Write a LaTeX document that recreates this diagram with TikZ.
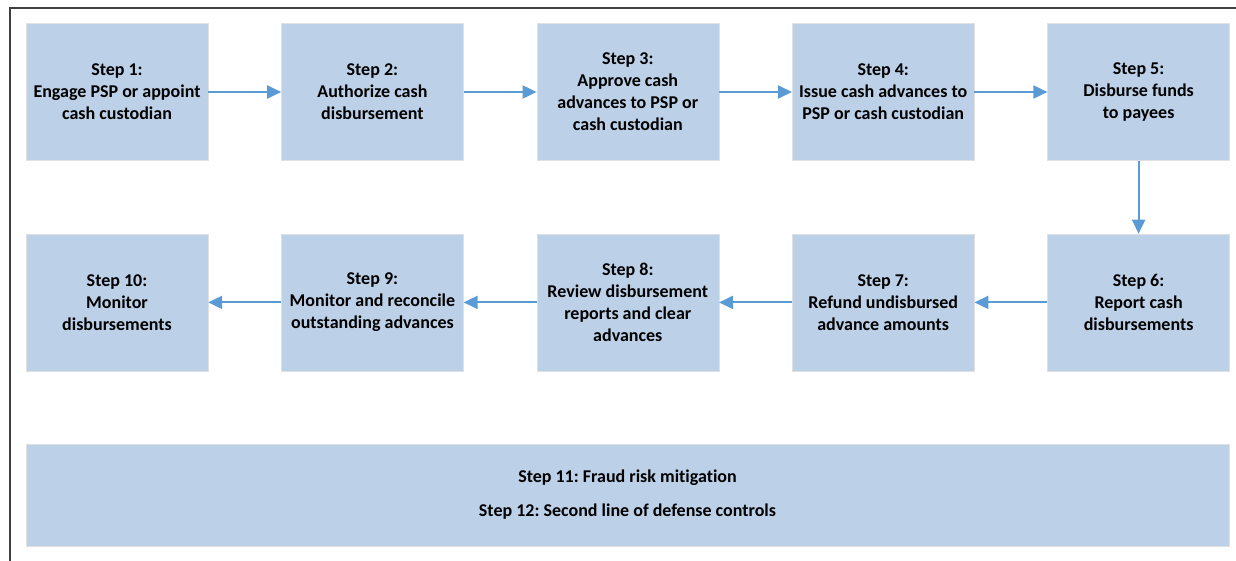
\documentclass[tikz,border=0pt]{standalone}
\usepackage{fontspec}
\setmainfont{Carlito}[Ligatures=NoCommon]
\usetikzlibrary{positioning,arrows.meta}

\begin{document}
\frenchspacing
\begin{tikzpicture}
[
    x=1pt, y=-1pt,
    stepbox/.style={draw=black!12, fill=boxblue, minimum width=182pt, minimum height=137pt,
        align=center, font=\fontsize{18}{22}\selectfont\bfseries, inner sep=2pt},
    flow/.style={draw=arrowblue, line width=2pt, -{Triangle[length=14pt, width=13pt]}},
]
\definecolor{boxblue}{HTML}{BCD0E8}
\definecolor{arrowblue}{HTML}{5B9BD5}
\useasboundingbox (0,0) rectangle (1236,560);
\draw [black!75, line width=1.3pt] (10,562) -- (10,8) -- (1238,8);

% top row
\node [stepbox] (step1) at (117,92) {Step 1:\\Engage PSP or appoint\\cash custodian};
\node [stepbox, right=73pt of step1] (step2) {Step 2:\\Authorize cash\\disbursement};
\node [stepbox, right=73pt of step2] (step3) {Step 3:\\Approve cash\\advances to PSP or\\cash custodian};
\node [stepbox, right=73pt of step3] (step4) {Step 4:\\Issue cash advances to\\PSP or cash custodian};
\node [stepbox, right=73pt of step4] (step5) {Step 5:\\Disburse funds\\to payees};

% second row
\node [stepbox, below=73pt of step5] (step6) {Step 6:\\Report cash\\disbursements};
\node [stepbox, left=73pt of step6] (step7) {Step 7:\\Refund undisbursed\\advance amounts};
\node [stepbox, left=73pt of step7] (step8) {Step 8:\\Review disbursement\\reports and clear\\advances};
\node [stepbox, left=73pt of step8] (step9) {Step 9:\\Monitor and reconcile\\outstanding advances};
\node [stepbox, left=73pt of step9] (step10) {Step 10:\\Monitor\\disbursements};

% bottom
\node [stepbox, minimum width=1203pt, minimum height=102pt,
    font=\fontsize{18}{34}\selectfont\bfseries] (controls) at (627.5,495)
    {Step 11: Fraud risk mitigation\\Step 12: Second line of defense controls};

\draw [flow] (step1) -- (step2);
\draw [flow] (step2) -- (step3);
\draw [flow] (step3) -- (step4);
\draw [flow] (step4) -- (step5);
\draw [flow] (step5) -- (step6);
\draw [flow] (step6) -- (step7);
\draw [flow] (step7) -- (step8);
\draw [flow] (step8) -- (step9);
\draw [flow] (step9) -- (step10);
\end{tikzpicture}
\end{document}
